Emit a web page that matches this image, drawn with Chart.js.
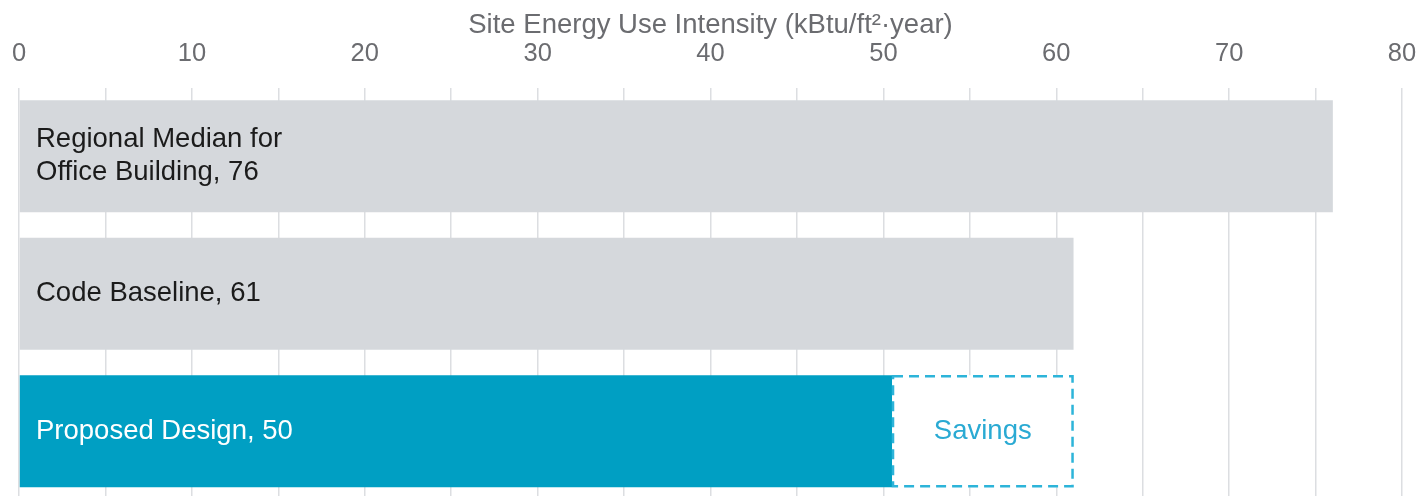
<!DOCTYPE html>
<html>
<head>
<meta charset="utf-8">
<script src="https://cdn.jsdelivr.net/npm/chart.js@4"></script>
<style>
    html, body { margin: 0; padding: 0; background: #fff; overflow: hidden; }
    #wrap { width: 1427px; height: 500px; position: relative; }
</style>
</head>
<body>
<div id="wrap"><canvas id="euiChart"></canvas></div>
<script>
const categories = ['Regional Median', 'Code Baseline', 'Proposed Design']
const barLabels = [
    ['Regional Median for', 'Office Building, 76'],
    ['Code Baseline, 61'],
    ['Proposed Design, 50'],
]
const euiValues = [76, 61, 50.5]
const savingsValues = [null, null, 10.5]
const xTicks = [0, 10, 20, 30, 40, 50, 60, 70, 80]

const fontFamily = '"Liberation Sans", Arial, sans-serif'

// writes the category labels inside the bars + the dashed savings box
const barTextPlugin = {
    id: 'barText',
    afterDatasetsDraw(chart) {
        const ctx = chart.ctx
        const xScale = chart.scales.x
        const mainMeta = chart.getDatasetMeta(0)
        const savingsMeta = chart.getDatasetMeta(1)
        const left = xScale.getPixelForValue(0) + 17

        ctx.save()
        ctx.font = '27.5px ' + fontFamily
        ctx.textBaseline = 'middle'
        ctx.textAlign = 'left'
        mainMeta.data.forEach((bar, i) => {
            const lines = barLabels[i]
            const lineHeight = 33
            ctx.fillStyle = i === 2 ? '#ffffff' : '#1b1b1b'
            lines.forEach((line, j) => {
                const y = bar.y + (j - (lines.length - 1) / 2) * lineHeight
                ctx.fillText(line, left, y)
            })
        })

        savingsMeta.data.forEach((bar, i) => {
            if (savingsValues[i] == null) return
            const { x, y, base, height } = bar.getProps(['x', 'y', 'base', 'height'], true)
            const top = y - height / 2
            ctx.strokeStyle = '#2db4d9'
            ctx.lineWidth = 2.5
            ctx.setLineDash([10, 6])
            ctx.strokeRect(base + 1, top + 1, x - base - 2, height - 2)
            ctx.setLineDash([])
            ctx.fillStyle = '#2aaad3'
            ctx.textAlign = 'center'
            ctx.fillText('Savings', (x + base) / 2, bar.y)
        })
        ctx.restore()
    }
}

new Chart(document.getElementById('euiChart').getContext('2d'), {
    type: 'bar',
    data: {
        labels: categories,
        datasets: [
            {
                data: euiValues,
                backgroundColor: ['#d5d8dc', '#d5d8dc', '#009fc3'],
                borderWidth: 0,
                barPercentage: 0.815,
                categoryPercentage: 1,
            },
            {
                data: savingsValues,
                backgroundColor: '#ffffff',
                borderWidth: 0,
                barPercentage: 0.815,
                categoryPercentage: 1,
            },
        ],
    },
    options: {
        indexAxis: 'y',
        responsive: true,
        maintainAspectRatio: false,
        animation: false,
        layout: { padding: { left: 19, right: 25, top: 0, bottom: 0 } },
        plugins: {
            legend: { display: false },
            tooltip: { enabled: false },
        },
        scales: {
            x: {
                position: 'top',
                stacked: true,
                min: 0,
                max: 80,
                border: { display: false },
                // let the first/last tick labels hang over the plot edge
                afterFit: scale => {
                    scale.paddingLeft = 0
                    scale.paddingRight = 0
                },
                grid: {
                    color: '#dcdee1',
                    lineWidth: 1.5,
                    drawTicks: false,
                },
                ticks: {
                    stepSize: 5,
                    autoSkip: false,
                    maxRotation: 0,
                    padding: 18,
                    color: '#6b6c70',
                    font: { family: fontFamily, size: 25.5 },
                    callback: v => xTicks.includes(v) ? String(v) : '',
                },
                title: {
                    display: true,
                    text: 'Site Energy Use Intensity (kBtu/ft²·year)',
                    color: '#6b6c70',
                    font: { family: fontFamily, size: 27.5 },
                    padding: { top: 9, bottom: -21 },
                },
            },
            y: {
                stacked: true,
                display: false,
            },
        },
    },
    plugins: [barTextPlugin],
})
</script>
</body>
</html>
